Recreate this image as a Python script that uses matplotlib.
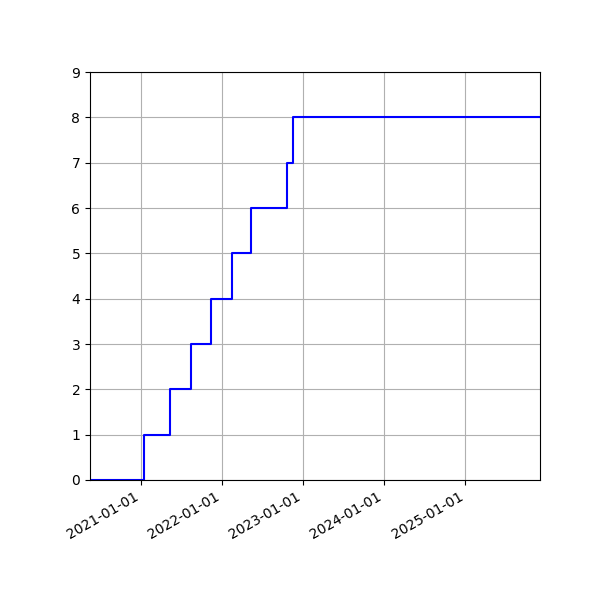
import numpy as np
import matplotlib
matplotlib.use('Agg')
import matplotlib.pyplot as plt
import matplotlib.dates as mdates

dates = ['2020-05-15', '2021-01-15', '2021-05-10', '2021-08-13', '2021-11-11',
         '2022-02-14', '2022-05-10', '2022-10-18', '2022-11-17', '2025-12-03']
counts = [0, 1, 2, 3, 4, 5, 6, 7, 8, 8]

x = np.array(dates, dtype='datetime64[D]')

fig, ax = plt.subplots(figsize=(6, 6), dpi=100)
fig.subplots_adjust(left=0.15, right=0.9, top=0.88, bottom=0.2)
ax.step(x, counts, where='post', color='b')
ax.set_xlim(x[0], x[-1])
ax.set_ylim(0, 9)
ax.xaxis.set_major_locator(mdates.YearLocator())
ax.xaxis.set_major_formatter(mdates.DateFormatter('%Y-%m-%d'))
ax.grid()
fig.autofmt_xdate()
fig.subplots_adjust(left=0.15, right=0.9, top=0.88, bottom=0.2)
fig.savefig('out.png')
